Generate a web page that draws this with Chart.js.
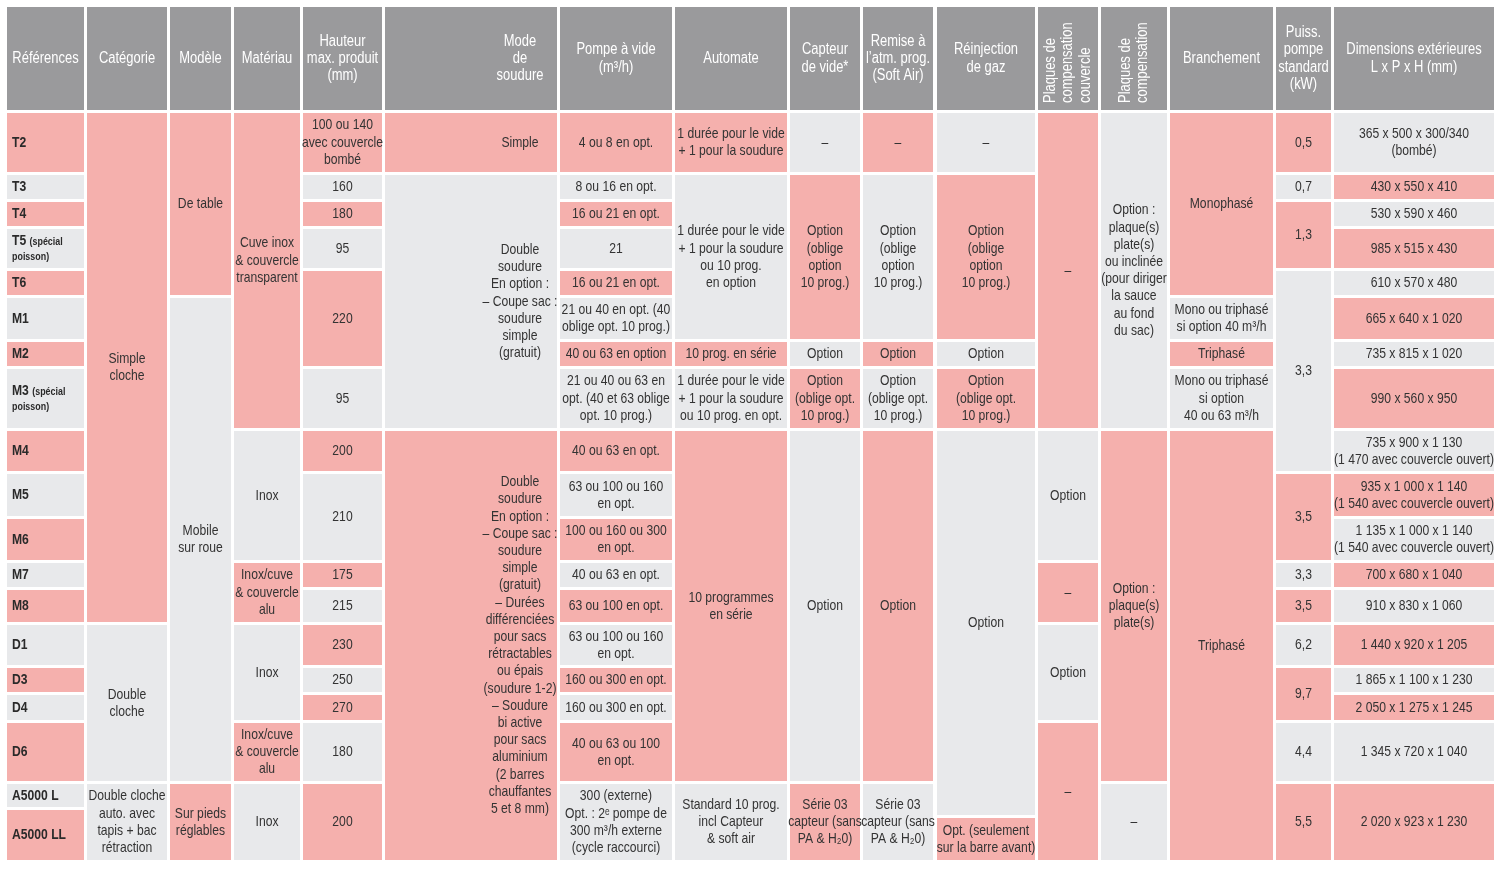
<!DOCTYPE html>
<html lang="fr">
<head>
<meta charset="utf-8">
<title>Machines sous vide - tableau comparatif</title>
<script src="https://cdn.jsdelivr.net/npm/chart.js@4.4.1/dist/chart.umd.min.js"></script>
<style>
  html, body { margin: 0; padding: 0; background: #fff; }
  #table-chart { display: block; }
</style>
</head>
<body>
<canvas id="table-chart" width="1500" height="871"></canvas>
<script>
// ---- data ----
const references = ['T2', 'T3', 'T4', 'T5', 'T6', 'M1', 'M2', 'M3', 'M4', 'M5', 'M6', 'M7', 'M8', 'D1', 'D3', 'D4', 'D6', 'A5000 L', 'A5000 LL'];
const referenceNotes = { T5: '(spécial\npoisson)', M3: '(spécial\npoisson)' };

const headers = [
    'Références', 'Catégorie', 'Modèle', 'Matériau', 'Hauteur\nmax. produit\n(mm)', 'Mode\nde\nsoudure',
    'Pompe à vide\n(m³/h)', 'Automate', 'Capteur\nde vide*', 'Remise à\nl’atm. prog.\n(Soft Air)', 'Réinjection\nde gaz',
    'Plaques de\ncompensation\ncouvercle', 'Plaques de\ncompensation', 'Branchement', 'Puiss.\npompe\nstandard\n(kW)',
    'Dimensions extérieures\nL x P x H (mm)'
];

// [texte, première référence, dernière référence]
const categorie = [
    ['Simple\ncloche', 'T2', 'M8'],
    ['Double\ncloche', 'D1', 'D6'],
    ['Double cloche\nauto. avec\ntapis + bac\nrétraction', 'A5000 L', 'A5000 LL']
];
const modele = [
    ['De table', 'T2', 'T6'],
    ['Mobile\nsur roue', 'M1', 'D6'],
    ['Sur pieds\nréglables', 'A5000 L', 'A5000 LL']
];
const materiau = [
    ['Cuve inox\n& couvercle\ntransparent', 'T2', 'M3'],
    ['Inox', 'M4', 'M6'],
    ['Inox/cuve\n& couvercle\nalu', 'M7', 'M8'],
    ['Inox', 'D1', 'D4'],
    ['Inox/cuve\n& couvercle\nalu', 'D6', 'D6'],
    ['Inox', 'A5000 L', 'A5000 LL']
];
const hauteur = [
    ['100 ou 140\navec couvercle\nbombé', 'T2', 'T2'], ['160', 'T3', 'T3'], ['180', 'T4', 'T4'], ['95', 'T5', 'T5'],
    ['220', 'T6', 'M2'], ['95', 'M3', 'M3'], ['200', 'M4', 'M4'], ['210', 'M5', 'M6'], ['175', 'M7', 'M7'],
    ['215', 'M8', 'M8'], ['230', 'D1', 'D1'], ['250', 'D3', 'D3'], ['270', 'D4', 'D4'], ['180', 'D6', 'D6'],
    ['200', 'A5000 L', 'A5000 LL']
];
const modeSoudure = [
    ['Simple', 'T2', 'T2'],
    ['Double\nsoudure\nEn option :\n– Coupe sac :\nsoudure\nsimple\n(gratuit)', 'T3', 'M3'],
    ['Double\nsoudure\nEn option :\n– Coupe sac :\nsoudure\nsimple\n(gratuit)\n– Durées\ndifférenciées\npour sacs\nrétractables\nou épais\n(soudure 1-2)\n– Soudure\nbi active\npour sacs\naluminium\n(2 barres\nchauffantes\n5 et 8 mm)', 'M4', 'A5000 LL']
];
const pompe = [
    ['4 ou 8 en opt.', 'T2', 'T2'], ['8 ou 16 en opt.', 'T3', 'T3'], ['16 ou 21 en opt.', 'T4', 'T4'],
    ['21', 'T5', 'T5'], ['16 ou 21 en opt.', 'T6', 'T6'], ['21 ou 40 en opt. (40\noblige opt. 10 prog.)', 'M1', 'M1'],
    ['40 ou 63 en option', 'M2', 'M2'], ['21 ou 40 ou 63 en\nopt. (40 et 63 oblige\nopt. 10 prog.)', 'M3', 'M3'],
    ['40 ou 63 en opt.', 'M4', 'M4'], ['63 ou 100 ou 160\nen opt.', 'M5', 'M5'], ['100 ou 160 ou 300\nen opt.', 'M6', 'M6'],
    ['40 ou 63 en opt.', 'M7', 'M7'], ['63 ou 100 en opt.', 'M8', 'M8'], ['63 ou 100 ou 160\nen opt.', 'D1', 'D1'],
    ['160 ou 300 en opt.', 'D3', 'D3'], ['160 ou 300 en opt.', 'D4', 'D4'], ['40 ou 63 ou 100\nen opt.', 'D6', 'D6'],
    ['300 (externe)\nOpt. : 2ᵉ pompe de\n300 m³/h externe\n(cycle raccourci)', 'A5000 L', 'A5000 LL']
];
const automate = [
    ['1 durée pour le vide\n+ 1 pour la soudure', 'T2', 'T2'],
    ['1 durée pour le vide\n+ 1 pour la soudure\nou 10 prog.\nen option', 'T3', 'M1'],
    ['10 prog. en série', 'M2', 'M2'],
    ['1 durée pour le vide\n+ 1 pour la soudure\nou 10 prog. en opt.', 'M3', 'M3'],
    ['10 programmes\nen série', 'M4', 'D6'],
    ['Standard 10 prog.\nincl Capteur\n& soft air', 'A5000 L', 'A5000 LL']
];
const capteur = [
    ['–', 'T2', 'T2'], ['Option\n(oblige\noption\n10 prog.)', 'T3', 'M1'], ['Option', 'M2', 'M2'],
    ['Option\n(oblige opt.\n10 prog.)', 'M3', 'M3'], ['Option', 'M4', 'D6'],
    ['Série 03\ncapteur (sans\nPA & H₂0)', 'A5000 L', 'A5000 LL']
];
const remise = [
    ['–', 'T2', 'T2'], ['Option\n(oblige\noption\n10 prog.)', 'T3', 'M1'], ['Option', 'M2', 'M2'],
    ['Option\n(oblige opt.\n10 prog.)', 'M3', 'M3'], ['Option', 'M4', 'D6'],
    ['Série 03\ncapteur (sans\nPA & H₂0)', 'A5000 L', 'A5000 LL']
];
const reinjection = [
    ['–', 'T2', 'T2'], ['Option\n(oblige\noption\n10 prog.)', 'T3', 'M1'], ['Option', 'M2', 'M2'],
    ['Option\n(oblige opt.\n10 prog.)', 'M3', 'M3'], ['Option', 'M4', 'A5000 L'],
    ['Opt. (seulement\nsur la barre avant)', 'A5000 LL', 'A5000 LL']
];
const plaquesCouvercle = [
    ['–', 'T2', 'M3'], ['Option', 'M4', 'M6'], ['–', 'M7', 'M8'], ['Option', 'D1', 'D4'], ['–', 'D6', 'A5000 LL']
];
const plaques = [
    ['Option :\nplaque(s)\nplate(s)\nou inclinée\n(pour diriger\nla sauce\nau fond\ndu sac)', 'T2', 'M3'],
    ['Option :\nplaque(s)\nplate(s)', 'M4', 'D6'],
    ['–', 'A5000 L', 'A5000 LL']
];
const branchement = [
    ['Monophasé', 'T2', 'T6'], ['Mono ou triphasé\nsi option 40 m³/h', 'M1', 'M1'], ['Triphasé', 'M2', 'M2'],
    ['Mono ou triphasé\nsi option\n40 ou 63 m³/h', 'M3', 'M3'], ['Triphasé', 'M4', 'A5000 LL']
];
const puissance = [
    ['0,5', 'T2', 'T2'], ['0,7', 'T3', 'T3'], ['1,3', 'T4', 'T5'], ['3,3', 'T6', 'M4'], ['3,5', 'M5', 'M6'],
    ['3,3', 'M7', 'M7'], ['3,5', 'M8', 'M8'], ['6,2', 'D1', 'D1'], ['9,7', 'D3', 'D4'], ['4,4', 'D6', 'D6'],
    ['5,5', 'A5000 L', 'A5000 LL']
];
const dimensions = [
    ['365 x 500 x 300/340\n(bombé)', 'T2', 'T2'], ['430 x 550 x 410', 'T3', 'T3'], ['530 x 590 x 460', 'T4', 'T4'],
    ['985 x 515 x 430', 'T5', 'T5'], ['610 x 570 x 480', 'T6', 'T6'], ['665 x 640 x 1 020', 'M1', 'M1'],
    ['735 x 815 x 1 020', 'M2', 'M2'], ['990 x 560 x 950', 'M3', 'M3'],
    ['735 x 900 x 1 130\n(1 470 avec couvercle ouvert)', 'M4', 'M4'],
    ['935 x 1 000 x 1 140\n(1 540 avec couvercle ouvert)', 'M5', 'M5'],
    ['1 135 x 1 000 x 1 140\n(1 540 avec couvercle ouvert)', 'M6', 'M6'],
    ['700 x 680 x 1 040', 'M7', 'M7'], ['910 x 830 x 1 060', 'M8', 'M8'], ['1 440 x 920 x 1 205', 'D1', 'D1'],
    ['1 865 x 1 100 x 1 230', 'D3', 'D3'], ['2 050 x 1 275 x 1 245', 'D4', 'D4'], ['1 345 x 720 x 1 040', 'D6', 'D6'],
    ['2 020 x 923 x 1 230', 'A5000 L', 'A5000 LL']
];

// ---- layout / style ----
const HEADER_BAND = [7, 110];
const ROW_BANDS = [[113, 172], [175, 199], [202, 226], [229, 268], [271, 295], [298, 339], [342, 366], [369, 428],
    [431, 471], [474, 516], [519, 560], [563, 587], [590, 622], [625, 665], [668, 692], [695, 720], [723, 781],
    [784, 807], [810, 860]];
const COLUMN_BANDS = [[7, 84], [87, 167], [170, 231], [234, 300], [303, 382], [385, 557], [560, 672], [675, 787],
    [790, 860], [863, 933], [937, 1035], [1038, 1098], [1101, 1167], [1170, 1273], [1276, 1331], [1334, 1494]];
const TEXT_X = { 5: 520 };          // "Mode de soudure" text sits right of the blank strip
const ROTATED_HEADERS = [11, 12];

const PINK = '#f5b0ad';
const GREY = '#e8e9eb';
const HEAD = '#9a9a9c';
const INK = '#333333';
const FONT = '"Liberation Sans", Arial, sans-serif';
const SQUEEZE = 0.81;
const LINE_H = 17.2;

const bodyColumns = [
    { key: 'categorie', cells: categorie, shades: 'pgg' },
    { key: 'modele', cells: modele, start: 'p' },
    { key: 'materiau', cells: materiau, start: 'p' },
    { key: 'hauteur', cells: hauteur, start: 'p' },
    { key: 'mode', cells: modeSoudure, start: 'p' },
    { key: 'pompe', cells: pompe, start: 'p' },
    { key: 'automate', cells: automate, start: 'p' },
    { key: 'capteur', cells: capteur, start: 'g' },
    { key: 'remise', cells: remise, start: 'p' },
    { key: 'reinjection', cells: reinjection, start: 'g' },
    { key: 'plaquesCouvercle', cells: plaquesCouvercle, start: 'p' },
    { key: 'plaques', cells: plaques, start: 'g' },
    { key: 'branchement', cells: branchement, start: 'p' },
    { key: 'puissance', cells: puissance, start: 'p' },
    { key: 'dimensions', cells: dimensions, start: 'g' }
];
const EDGE_TWEAKS = { 'reinjection:4': { y1: 815 }, 'reinjection:5': { y0: 818 } };
const TEXT_NUDGE = { 'materiau:0': -10 };

function shadeOf(col, j) {
    if (col.shades) return col.shades[j];
    return (j % 2 === 0) === (col.start === 'p') ? 'p' : 'g';
}

// build the cell list
const cells = [];
headers.forEach((h, i) => {
    cells.push({
        x0: COLUMN_BANDS[i][0], x1: COLUMN_BANDS[i][1], y0: HEADER_BAND[0], y1: HEADER_BAND[1],
        color: HEAD, text: h, kind: ROTATED_HEADERS.includes(i) ? 'rotated' : 'header', tx: TEXT_X[i]
    });
});
references.forEach((r, j) => {
    cells.push({
        x0: COLUMN_BANDS[0][0], x1: COLUMN_BANDS[0][1], y0: ROW_BANDS[j][0], y1: ROW_BANDS[j][1],
        color: j % 2 === 0 ? PINK : GREY, text: r, note: referenceNotes[r], kind: 'ref'
    });
});
bodyColumns.forEach((col, k) => {
    const i = k + 1;
    col.cells.forEach(([text, from, to], j) => {
        const tweak = EDGE_TWEAKS[col.key + ':' + j] || {};
        cells.push({
            x0: COLUMN_BANDS[i][0], x1: COLUMN_BANDS[i][1],
            y0: tweak.y0 || ROW_BANDS[references.indexOf(from)][0],
            y1: tweak.y1 || ROW_BANDS[references.indexOf(to)][1],
            color: shadeOf(col, j) === 'p' ? PINK : GREY,
            text, kind: 'body', tx: TEXT_X[i], nudge: TEXT_NUDGE[col.key + ':' + j] || 0
        });
    });
});

// text drawn on top of the filled cells
function squeezedText(ctx, str, px, py, align) {
    ctx.save();
    ctx.translate(px, py);
    ctx.scale(SQUEEZE, 1);
    ctx.textAlign = align;
    ctx.fillText(str, 0, 0);
    ctx.restore();
}

const cellText = {
    id: 'cellText',
    afterDatasetsDraw(chart) {
        const { ctx, scales: { x, y } } = chart;
        ctx.save();
        ctx.textBaseline = 'middle';
        cells.forEach(c => {
            const left = x.getPixelForValue(c.x0), right = x.getPixelForValue(c.x1);
            const top = y.getPixelForValue(c.y0), bottom = y.getPixelForValue(c.y1);
            const cx = c.tx !== undefined ? x.getPixelForValue(c.tx) : (left + right) / 2;
            const cy = (top + bottom) / 2 + (c.nudge || 0);
            const lines = c.text.split('\n');

            if (c.kind === 'ref') {
                const noteLines = c.note ? c.note.split('\n') : [];
                const n = noteLines.length > 1 ? 2 : 1;
                const y0 = cy - (n - 1) * 8;
                ctx.fillStyle = '#2a2a2a';
                ctx.font = 'bold 15px ' + FONT;
                squeezedText(ctx, c.text, left + 5, y0, 'left');
                if (noteLines.length) {
                    const w = ctx.measureText(c.text + ' ').width * SQUEEZE;
                    ctx.font = 'bold 11px ' + FONT;
                    squeezedText(ctx, noteLines[0], left + 5 + w, y0 + 1, 'left');
                    squeezedText(ctx, noteLines[1], left + 5, y0 + 16, 'left');
                }
                return;
            }
            if (c.kind === 'rotated') {
                ctx.fillStyle = '#ffffff';
                ctx.font = '16px ' + FONT;
                lines.forEach((line, i) => {
                    const lx = cx + (i - (lines.length - 1) / 2) * LINE_H;
                    ctx.save();
                    ctx.translate(lx, bottom - 7);
                    ctx.rotate(-Math.PI / 2);
                    squeezedText(ctx, line, 0, 0, 'left');
                    ctx.restore();
                });
                return;
            }
            ctx.fillStyle = c.kind === 'header' ? '#ffffff' : INK;
            ctx.font = (c.kind === 'header' ? '16px ' : '15px ') + FONT;
            lines.forEach((line, i) => {
                squeezedText(ctx, line, cx, cy + (i - (lines.length - 1) / 2) * LINE_H, 'center');
            });
        });
        ctx.restore();
    }
};

function makeTable() {
    const ctx = document.getElementById('table-chart').getContext('2d');

    // every cell is a flat line along its top edge, filled down to its bottom edge
    const datasets = cells.map(c => ({
        data: [{ x: c.x0, y: c.y0 }, { x: c.x1, y: c.y0 }],
        fill: { value: c.y1 },
        backgroundColor: c.color,
        borderColor: 'transparent',
        borderWidth: 0,
        pointRadius: 0,
        pointHoverRadius: 0
    }));

    new Chart(ctx, {
        type: 'line',
        data: { datasets },
        options: {
            responsive: false,
            maintainAspectRatio: false,
            devicePixelRatio: 1,
            animation: false,
            events: [],
            layout: { padding: 0 },
            plugins: { legend: { display: false }, tooltip: { enabled: false } },
            scales: {
                x: { type: 'linear', min: 0, max: 1500, display: false },
                y: { type: 'linear', min: 0, max: 871, reverse: true, display: false }
            }
        },
        plugins: [cellText]
    });
}

makeTable();
</script>
</body>
</html>
